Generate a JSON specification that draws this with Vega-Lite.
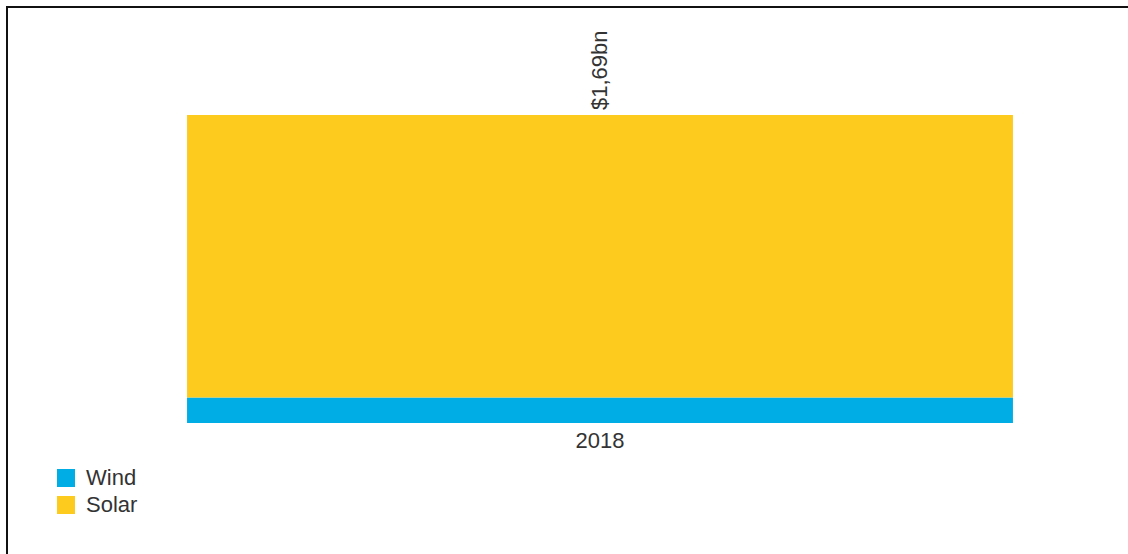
{
  "$schema": "https://vega.github.io/schema/vega-lite/v6.json",
  "width": 1186,
  "height": 560,
  "autosize": {"type": "none"},
  "padding": {"left": 7, "top": 7, "right": 0, "bottom": 0},
  "background": "white",
  "config": {
    "view": {"stroke": "#111111", "strokeWidth": 2},
    "font": "Liberation Sans"
  },
  "datasets": {
    "parts": [
      {"year": "2018", "source": "Wind", "value": 0.14, "order": 1},
      {"year": "2018", "source": "Solar", "value": 1.55, "order": 2}
    ],
    "totals": [
      {"year": "2018", "total": 1.69, "label": "$1,69bn"}
    ]
  },
  "layer": [
    {
      "data": {"name": "parts"},
      "mark": {"type": "bar"},
      "encoding": {
        "x": {
          "field": "year", "type": "nominal",
          "scale": {"paddingInner": 0, "paddingOuter": 0.218},
          "axis": {"title": null, "domain": false, "ticks": false, "labelAngle": 0, "labelFontSize": 22, "labelColor": "#333333", "labelPadding": 7, "offset": -144, "grid": false}
        },
        "y": {
          "field": "value", "type": "quantitative", "stack": "zero",
          "scale": {"domain": [-0.79, 2.2826], "nice": false, "zero": false},
          "axis": null
        },
        "order": {"field": "order", "type": "quantitative"},
        "color": {
          "field": "source", "type": "nominal",
          "scale": {"domain": ["Wind", "Solar"], "range": ["#00ADE5", "#FDCA1E"]},
          "legend": {
            "title": null, "orient": "none", "legendX": 48, "legendY": 460,
            "symbolType": "square", "symbolSize": 324, "symbolStrokeWidth": 0,
            "labelFontSize": 22, "labelColor": "#333333", "rowPadding": 5, "labelOffset": 9
          }
        }
      }
    },
    {
      "data": {"name": "totals"},
      "mark": {"type": "text", "angle": 270, "align": "left", "baseline": "middle", "dx": 5, "fontSize": 22, "color": "#333333"},
      "encoding": {
        "x": {"field": "year", "type": "nominal"},
        "y": {"field": "total", "type": "quantitative"},
        "text": {"field": "label"}
      }
    }
  ]
}
